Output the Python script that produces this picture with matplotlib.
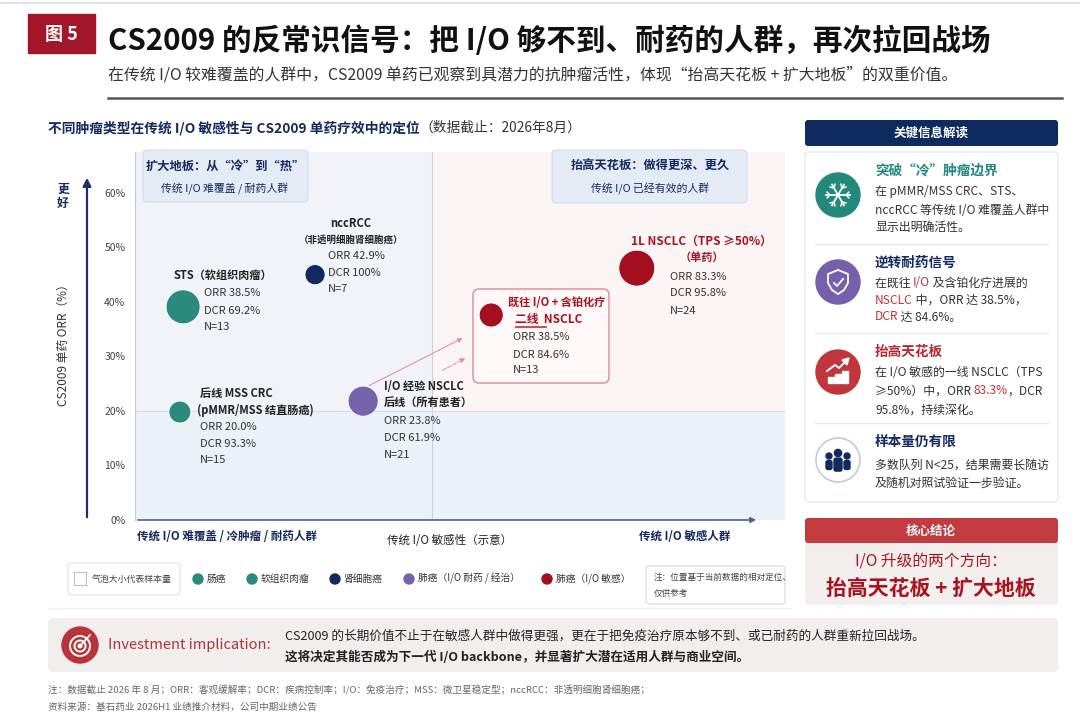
import numpy as np
import matplotlib
matplotlib.use('Agg')
import matplotlib.pyplot as plt
from matplotlib.patches import FancyBboxPatch, Rectangle, Circle, Polygon

plt.rcParams['font.family'] = ['Noto Sans CJK SC', 'DejaVu Sans']

# ---- data ----
cohorts = ['后线 MSS CRC', 'STS', 'nccRCC', 'I/O 经验 NSCLC', '二线 NSCLC', '1L NSCLC']
cohort_group = [0, 1, 2, 3, 4, 4]
io_sens = [0.69, 0.74, 2.77, 3.51, 5.48, 7.72]      # schematic position on x
orr_pos = [19.8, 39.1, 45.0, 21.8, 37.6, 46.2]      # plotted height (%)
orr = [20.0, 38.5, 42.9, 23.8, 38.5, 83.3]
dcr = [93.3, 69.2, 100, 61.9, 84.6, 95.8]
n_pts = [15, 13, 7, 21, 13, 24]
legend_groups = ['肠癌', '软组织肉瘤', '肾细胞癌', '肺癌（I/O 耐药 / 经治）', '肺癌（I/O 敏感）']
y_ticks = [0, 10, 20, 30, 40, 50, 60]

# ---- styles ----
group_colors = ['#2a8a7b', '#2a8a7b', '#13295e', '#7563ab', '#a30f1e']
bubble_s = [250, 600, 210, 470, 300, 670]
NAVY = '#14295e'
RED = '#a8131f'
TEAL = '#1f8a7b'
DIVIDE_X = 4.57

fig = plt.figure(figsize=(10.8, 7.19), dpi=100)
bg = fig.add_axes([0, 0, 1, 1], zorder=0)
ax = fig.add_axes([135 / 1080, 1 - 520 / 719, 650 / 1080, 368 / 719], zorder=1)
fg = fig.add_axes([0, 0, 1, 1], zorder=2)
for a in (bg, fg):
    a.set_xlim(0, 1080)
    a.set_ylim(719, 0)
    a.axis('off')
renderer = fig.canvas.get_renderer()


def rich(a, x, y, parts, size, **kw):
    # draw coloured pieces one after another on one line
    for s, c, w in parts:
        t = a.text(x, y, s, color=c, fontsize=size, fontweight=w,
                   va='center', ha='left', **kw)
        x += t.get_window_extent(renderer=renderer).width


def rbox(a, x0, y0, x1, y1, fc, ec='none', lw=1, r=4, z=1):
    a.add_patch(FancyBboxPatch((x0, y0), x1 - x0, y1 - y0,
                               boxstyle=f'round,pad=0,rounding_size={r}',
                               fc=fc, ec=ec, lw=lw, zorder=z))


# ---- header ----
bg.plot([0, 1080], [3, 3], color='#e2e2e2', lw=1.5)
bg.add_patch(Rectangle((28, 14), 67, 39, color='#a3162a'))
bg.text(61, 34, '图 5', color='white', fontsize=13, fontweight='bold',
        ha='center', va='center')
bg.text(108, 41, 'CS2009 的反常识信号：把 I/O 够不到、耐药的人群，再次拉回战场',
        fontsize=21.3, fontweight='bold', color='#111111', va='center')
bg.text(108, 75, '在传统 I/O 较难覆盖的人群中，CS2009 单药已观察到具潜力的抗肿瘤活性，'
        '体现“抬高天花板 + 扩大地板”的双重价值。',
        fontsize=11.4, color='#333333', va='center')
bg.plot([108, 1062], [98, 98], color='#555555', lw=1.8)

rich(bg, 48, 128, [('不同肿瘤类型在传统 I/O 敏感性与 CS2009 单药疗效中的定位', NAVY, 'bold'),
                   ('（数据截止：2026年8月）', '#333333', 'normal')], 9.9)

# ---- scatter chart ----
ax.set_facecolor('none')
ax.set_xlim(0, 10)
ax.set_ylim(0, 67.5)
ax.add_patch(Rectangle((0, 20), DIVIDE_X, 47.5, color='#f1f3f8', zorder=0))
ax.add_patch(Rectangle((DIVIDE_X, 20), 10 - DIVIDE_X, 47.5, color='#fcf5f5', zorder=0))
ax.add_patch(Rectangle((0, 0), 10, 20, color='#ecf0f7', zorder=0))
ax.axvline(DIVIDE_X, color='#c9cfdb', lw=0.8, zorder=1)
ax.axhline(20, color='#d6dbe4', lw=0.8, zorder=1)
ax.plot([0, 0], [0, 67.5], color='#c5cbd6', lw=0.8, zorder=1, clip_on=False)
for s in ax.spines.values():
    s.set_visible(False)
ax.set_xticks([])
ax.set_yticks(y_ticks)
ax.set_yticklabels([f'{v}%' for v in y_ticks])
ax.tick_params(axis='y', length=0, pad=7, labelsize=7.5, labelcolor='#444444')
ax.annotate('', xy=(9.6, 0), xytext=(0, 0), annotation_clip=False,
            arrowprops=dict(arrowstyle='-|>', color='#4d6390', lw=1.2, mutation_scale=8))

# box around the 2L NSCLC cohort
ax.add_patch(FancyBboxPatch((473, 289), 136, 94, boxstyle='round,pad=0,rounding_size=6',
                            fc='#fff8f8', ec='#d98a91', lw=1, transform=fg.transData,
                            zorder=2, clip_on=False))

colors = [group_colors[g] for g in cohort_group]
ax.scatter(io_sens, orr_pos, s=bubble_s, c=colors, edgecolors='white',
           linewidths=0.6, zorder=4, clip_on=False)

# arrows from I/O-experienced towards the 2L cohort
ax.annotate('', xy=(5.08, 33.6), xytext=(3.56, 24.4),
            arrowprops=dict(arrowstyle='-|>', color='#e0959b', lw=0.8, mutation_scale=7))
ax.annotate('', xy=(5.12, 29.9), xytext=(4.69, 27.2),
            arrowprops=dict(arrowstyle='-|>', color='#e0959b', lw=0.8, ls='--', mutation_scale=7))


def lab(i, dx, dy, s, size=8, color='#222222', weight='normal', ha='left'):
    ax.annotate(s, xy=(io_sens[i], orr_pos[i]), xytext=(dx * 0.72, -dy * 0.72),
                textcoords='offset points', va='center', ha=ha, fontsize=size,
                color=color, fontweight=weight, zorder=5, annotation_clip=False)


def stats(i, dx, dys, color='#333333'):
    txt = [f'ORR {orr[i]:.1f}%', f'DCR {dcr[i]:g}%', f'N={n_pts[i]}']
    for t, dy in zip(txt, dys):
        lab(i, dx, dy, t, color=color)


lab(0, 20, -19, '后线 MSS CRC', weight='bold')
lab(0, 17, -2, '(pMMR/MSS 结直肠癌)', weight='bold')
stats(0, 20, [15, 32, 48])
lab(1, -10, -31, 'STS（软组织肉瘤）', weight='bold')
stats(1, 21, [-14, 4, 20])
lab(2, 36, -51, 'nccRCC', weight='bold', ha='center')
lab(2, 36, -35, '（非透明细胞肾细胞癌）', size=6.8, weight='bold', ha='center')
stats(2, 13, [-19, -2, 14])
lab(3, 21, -15, 'I/O 经验 NSCLC', weight='bold')
lab(3, 21, 1, '后线（所有患者）', weight='bold')
stats(3, 21, [20, 37, 54])
lab(4, 65, -13, '既往 I/O + 含铂化疗', color=RED, weight='bold', ha='center')
lab(4, 57, 4, '二线  NSCLC', color=RED, weight='bold', ha='center', size=8.5)
stats(4, 22, [22, 40, 55])
lab(5, 65, -27, '1L NSCLC（TPS ≥50%）', color=RED, weight='bold', ha='center', size=8.5)
lab(5, 65, -11, '（单药）', color=RED, weight='bold', ha='center')
stats(5, 33, [9, 25, 43])
fg.plot([516, 546], [327, 327], color='#c0303a', lw=1.2)

# quadrant tags
rbox(fg, 143, 150, 308, 202, '#e4ebf5', '#d3dcec', 0.8)
fg.text(225, 166, '扩大地板：从“冷”到“热”', color=NAVY, fontsize=8.8,
        fontweight='bold', ha='center', va='center')
fg.text(225, 189, '传统 I/O 难覆盖 / 耐药人群', color=NAVY, fontsize=7.8,
        ha='center', va='center')
rbox(fg, 552, 150, 747, 203, '#e4ebf5', '#d3dcec', 0.8)
fg.text(650, 166, '抬高天花板：做得更深、更久', color=NAVY, fontsize=8.8,
        fontweight='bold', ha='center', va='center')
fg.text(650, 189, '传统 I/O 已经有效的人群', color=NAVY, fontsize=7.8,
        ha='center', va='center')

# axis captions
fg.annotate('', xy=(87, 175), xytext=(87, 520),
            arrowprops=dict(arrowstyle='-|>', color='#1c3068', lw=1.6, mutation_scale=12))
fg.text(63, 196, '更\n好', color=NAVY, fontsize=8.5, fontweight='bold',
        ha='center', va='center', linespacing=1.1)
fg.text(63, 342, 'CS2009 单药 ORR（%）', rotation=90, color='#333333', fontsize=8.5,
        ha='center', va='center')
fg.text(137, 536, '传统 I/O 难覆盖 / 冷肿瘤 / 耐药人群', color=NAVY, fontsize=8.3,
        fontweight='bold', va='center')
fg.text(450, 540, '传统 I/O 敏感性（示意）', color='#222222', fontsize=8.3,
        ha='center', va='center')
fg.text(685, 536, '传统 I/O 敏感人群', color=NAVY, fontsize=8.3, fontweight='bold',
        ha='center', va='center')

# legend row
rbox(bg, 68, 563, 180, 595, 'white', '#dcdfe5', 0.8, r=3)
bg.add_patch(Rectangle((74, 572), 12, 13, fc='white', ec='#b9bec8', lw=0.8))
bg.text(92, 579, '气泡大小代表样本量', fontsize=6.4, color='#444444', va='center')
leg_x = [198, 252, 335, 409, 547]
for gx, name, col in zip(leg_x, legend_groups, group_colors):
    fg.add_patch(Circle((gx, 579), 5, color=col))
    fg.text(gx + 9, 579, name, fontsize=7, color='#333333', va='center')
rbox(bg, 646, 566, 785, 604, 'white', '#d5d8de', 0.8, r=3)
bg.text(654, 577, '注：位置基于当前数据的相对定位、', fontsize=6.2, color='#444444', va='center')
bg.text(654, 593, '仅供参考', fontsize=6.2, color='#444444', va='center')
bg.plot([48, 790], [608, 608], color='#eeeeee', lw=1)

# ---- right panel ----
rbox(bg, 805, 120, 1058, 146, '#0f2a5e', r=3)
bg.text(931, 133, '关键信息解读', color='white', fontsize=9, fontweight='bold',
        ha='center', va='center')
rbox(bg, 805, 152, 1058, 502, 'white', '#e2e5eb', 0.8)
for sy in (244, 333, 423):
    bg.plot([815, 1048], [sy, sy], color='#e6e8ed', lw=0.9)


def icon_snow(cx, cy):
    fg.add_patch(Circle((cx, cy), 22, color='#23897a'))
    for k in range(6):
        a = k * np.pi / 3
        ux, uy = np.cos(a), np.sin(a)
        fg.plot([cx, cx + 12 * ux], [cy, cy + 12 * uy], color='white', lw=1.3)
        bx, by = cx + 8 * ux, cy + 8 * uy
        for s in (1, -1):
            b = a + s * np.pi / 4
            fg.plot([bx, bx + 4 * np.cos(b)], [by, by + 4 * np.sin(b)], color='white', lw=1.1)


def icon_shield(cx, cy):
    fg.add_patch(Circle((cx, cy), 22, color='#7460ab'))
    xs = [cx, cx + 10, cx + 10, cx + 6, cx, cx - 6, cx - 10, cx - 10, cx]
    ys = [cy - 12, cy - 8, cy + 1, cy + 8, cy + 12, cy + 8, cy + 1, cy - 8, cy - 12]
    fg.plot(xs, ys, color='white', lw=1.3)
    fg.plot([cx - 4, cx - 1, cx + 5], [cy + 1, cy + 4, cy - 3], color='white', lw=1.3)


def icon_growth(cx, cy):
    fg.add_patch(Circle((cx, cy), 22, color='#c0363c'))
    for bx, h in ((-10, 6), (-3, 9), (4, 12)):
        fg.add_patch(Rectangle((cx + bx, cy + 11 - h), 5.5, h, color='white'))
    fg.plot([cx - 11, cx - 3, cx + 1, cx + 8], [cy - 1, cy - 7, cy - 4, cy - 11],
            color='white', lw=1.4)
    fg.add_patch(Polygon([[cx + 11, cy - 14], [cx + 4, cy - 12], [cx + 9, cy - 7]], color='white'))


def icon_people(cx, cy):
    fg.add_patch(Circle((cx, cy), 22, fc='white', ec='#c3cbe0', lw=1.2))
    for px, py, r, w, h in ((-9, -4, 3, 6, 9), (9, -4, 3, 6, 9), (0, -7, 3.6, 8, 13)):
        fg.add_patch(Circle((cx + px, cy + py), r, color=NAVY))
        fg.add_patch(FancyBboxPatch((cx + px - w / 2, cy + py + r + 1.5), w, h,
                                    boxstyle='round,pad=0,rounding_size=2', color=NAVY))


icon_snow(838, 195)
icon_shield(838, 282)
icon_growth(838, 372)
icon_people(838, 460)

BODY = '#333333'
fg.text(875, 171, '突破“冷”肿瘤边界', color=TEAL, fontsize=9.8, fontweight='bold', va='center')
for yy, s in zip((192, 210, 227), ('在 pMMR/MSS CRC、STS、', 'nccRCC 等传统 I/O 难覆盖人群中', '显示出明确活性。')):
    fg.text(875, yy, s, color=BODY, fontsize=8.6, va='center')

fg.text(875, 263, '逆转耐药信号', color=NAVY, fontsize=9.8, fontweight='bold', va='center')
rich(fg, 875, 283, [('在既往 ', BODY, 'normal'), ('I/O', '#c0303a', 'normal'),
                    (' 及含铂化疗进展的', BODY, 'normal')], 8.6)
rich(fg, 875, 300, [('NSCLC', '#c0303a', 'normal'), (' 中，ORR 达 38.5%，', BODY, 'normal')], 8.6)
rich(fg, 875, 317, [('DCR', '#c0303a', 'normal'), (' 达 84.6%。', BODY, 'normal')], 8.6)

fg.text(875, 352, '抬高天花板', color='#b8262e', fontsize=9.8, fontweight='bold', va='center')
fg.text(875, 373, '在 I/O 敏感的一线 NSCLC（TPS', color=BODY, fontsize=8.6, va='center')
rich(fg, 875, 391, [('≥50%）中，ORR ', BODY, 'normal'), ('83.3%', '#c0303a', 'normal'),
                    ('，DCR', BODY, 'normal')], 8.6)
fg.text(875, 410, '95.8%，持续深化。', color=BODY, fontsize=8.6, va='center')

fg.text(875, 442, '样本量仍有限', color=NAVY, fontsize=9.8, fontweight='bold', va='center')
fg.text(875, 465, '多数队列 N<25，结果需要长随访', color=BODY, fontsize=8.6, va='center')
fg.text(875, 483, '及随机对照试验证一步验证。', color=BODY, fontsize=8.6, va='center')

rbox(bg, 805, 518, 1058, 605, '#f3efef', r=3)
rbox(bg, 805, 518, 1058, 543, '#c23b40', r=3)
bg.text(931, 531, '核心结论', color='white', fontsize=9, fontweight='bold',
        ha='center', va='center')
bg.text(931, 562, 'I/O 升级的两个方向：', color=RED, fontsize=11.3, ha='center', va='center')
bg.text(931, 588, '抬高天花板 + 扩大地板', color=RED, fontsize=15, fontweight='bold',
        ha='center', va='center')

# ---- investment implication ----
rbox(bg, 48, 618, 1058, 672, '#f2eeee', r=5)
fg.add_patch(Circle((80, 645), 18, color='#b8333a'))
for rr in (10, 5.5):
    fg.add_patch(Circle((80, 646), rr, fc='none', ec='white', lw=1.4))
fg.add_patch(Circle((80, 646), 1.8, color='white'))
fg.plot([80, 90], [646, 635], color='white', lw=1.3)
fg.text(108, 645, 'Investment implication:', color='#b03038', fontsize=10.5, va='center')
fg.text(285, 636, 'CS2009 的长期价值不止于在敏感人群中做得更强，更在于把免疫治疗原本够不到、'
        '或已耐药的人群重新拉回战场。', color='#222222', fontsize=9.1, va='center')
fg.text(285, 657, '这将决定其能否成为下一代 I/O backbone，并显著扩大潜在适用人群与商业空间。',
        color='#222222', fontsize=9.1, fontweight='bold', va='center')

bg.text(48, 690, '注：数据截止 2026 年 8 月；ORR：客观缓解率；DCR：疾病控制率；I/O：免疫治疗；'
        'MSS：微卫星稳定型；nccRCC：非透明细胞肾细胞癌；', fontsize=6.9, color='#666666', va='center')
bg.text(48, 707, '资料来源：基石药业 2026H1 业绩推介材料，公司中期业绩公告',
        fontsize=6.9, color='#666666', va='center')

fig.savefig('out.png', dpi=100)
